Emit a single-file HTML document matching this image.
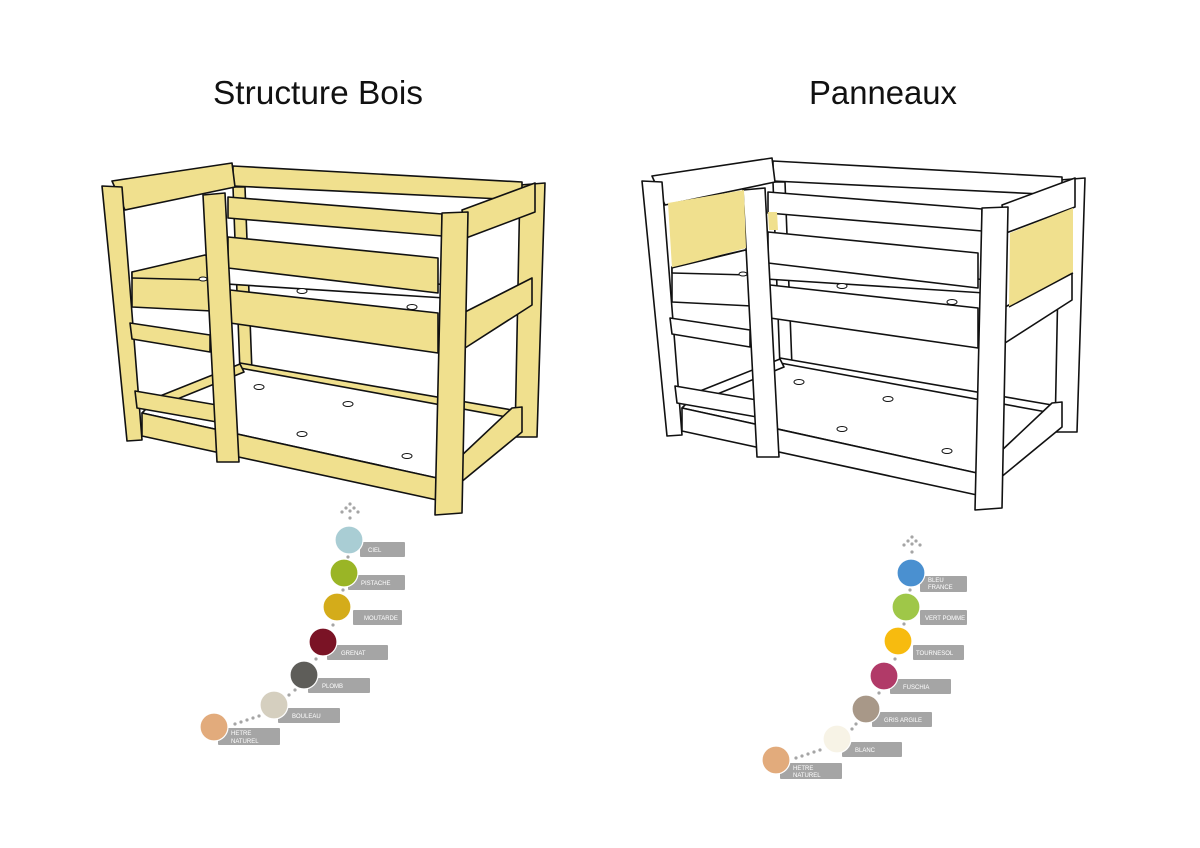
<!DOCTYPE html>
<html><head><meta charset="utf-8"><style>
html,body{margin:0;padding:0;background:#fff;width:1200px;height:848px;overflow:hidden}
svg{display:block}
.lbl{font-family:"Liberation Sans",sans-serif;font-size:6px;fill:#fff}
</style></head><body>
<svg width="1200" height="848" viewBox="0 0 1200 848" xmlns="http://www.w3.org/2000/svg">
<defs>
<g id="bed" stroke="#111" stroke-width="1.6" stroke-linejoin="round">
  <!-- back right post -->
  <polygon points="520,185 545,183 537,437 515,437" fill="currentColor"/>
  <!-- back left post visible between -->
  <polygon points="233,187 245,187 252,372 240,372" fill="currentColor"/>
  <!-- top back rail -->
  <polygon points="233,166 522,182 522,200 233,186" fill="currentColor"/>
  <!-- lower back rail -->
  <polygon points="240,363 512,410 512,420 240,372" fill="currentColor"/>
  <!-- upper mattress -->
  <polygon points="132,272 232,255 445,285 445,298 132,278" fill="#fff"/>
  <!-- lower mattress -->
  <polygon points="150,405 240,368 512,418 462,470 437,478 142,413" fill="#fff"/>
  <!-- lower left side rail -->
  <polygon points="155,398 240,364 244,372 160,406" fill="currentColor"/>
  <!-- left head top rail -->
  <polygon points="112,181 232,163 235,187 125,210" fill="currentColor"/>
  <!-- front left post -->
  <polygon points="102,186 122,187 142,440 127,441" fill="currentColor"/>
  <!-- upper left side rail -->
  <polygon points="132,272 205,255 210,258 212,311 132,307" fill="currentColor"/>
  <line x1="132" y1="278" x2="210" y2="280"/>
  <!-- rungs -->
  <polygon points="130,323 210,335 210,352 132,339" fill="currentColor"/>
  <polygon points="135,391 217,405 217,422 137,408" fill="currentColor"/>
  <!-- lower front rail -->
  <polygon points="142,413 437,478 437,500 142,436" fill="currentColor"/>
  <!-- guard rails -->
  <polygon points="228,197 442,214 442,236 228,218" fill="currentColor"/>
  <polygon points="228,237 438,258 438,293 228,268" fill="currentColor"/>
  <!-- upper front rail -->
  <polygon points="230,290 438,313 438,353 230,323" fill="currentColor"/>
  <!-- ladder post -->
  <polygon points="203,195 225,193 239,462 217,462" fill="currentColor"/>
  <!-- right side rails -->
  <polygon points="462,210 535,183 535,212 466,238" fill="currentColor"/>
  <polygon points="465,312 532,278 532,305 465,348" fill="currentColor"/>
  <polygon points="460,457 512,408 522,407 522,432 460,483" fill="currentColor"/>
  <!-- front right post -->
  <polygon points="442,213 468,212 462,513 435,515" fill="currentColor"/>
  <!-- holes -->
  <g fill="#fff" stroke-width="1">
    <ellipse cx="203" cy="279" rx="4" ry="2"/>
    <ellipse cx="302" cy="291" rx="5" ry="2.5"/>
    <ellipse cx="412" cy="307" rx="5" ry="2.5"/>
    <ellipse cx="259" cy="387" rx="5" ry="2.5"/>
    <ellipse cx="348" cy="404" rx="5" ry="2.5"/>
    <ellipse cx="302" cy="434" rx="5" ry="2.5"/>
    <ellipse cx="407" cy="456" rx="5" ry="2.5"/>
  </g>
</g>
</defs>

<text x="318" y="104" text-anchor="middle" font-family="Liberation Sans, sans-serif" font-size="33" fill="#111" textLength="210" lengthAdjust="spacingAndGlyphs">Structure Bois</text>
<text x="883" y="104" text-anchor="middle" font-family="Liberation Sans, sans-serif" font-size="33" fill="#111" textLength="148" lengthAdjust="spacingAndGlyphs">Panneaux</text>

<use href="#bed" style="color:#f0e08e"/>
<g transform="translate(540,-5)"><use href="#bed" style="color:#ffffff"/></g>
<!-- yellow panels on right bed -->
<g fill="#f0e08e" stroke="none">
  <polygon points="668,203 744,190 746,248 672,268"/>
  <polygon points="768,212 777,212 778,230 769,230"/>
  <polygon points="1010,233 1073,208 1073,272 1009,307"/>
</g>
<g stroke="#111" stroke-width="1.4" fill="none">
  <line x1="672" y1="268" x2="746" y2="250"/>
  <line x1="1009" y1="307" x2="1073" y2="273"/>
</g>

<!-- LEFT swatches -->
<g fill="#a5a5a5">
  <circle cx="350" cy="504" r="1.6"/><circle cx="346" cy="508" r="1.6"/><circle cx="354" cy="508" r="1.6"/><circle cx="342" cy="512" r="1.6"/><circle cx="350" cy="511" r="1.6"/><circle cx="358" cy="512" r="1.6"/><circle cx="350" cy="518" r="1.6"/>
  <circle cx="348" cy="557" r="1.6"/><circle cx="343" cy="590" r="1.6"/><circle cx="333" cy="625" r="1.6"/><circle cx="316" cy="659" r="1.6"/>
  <circle cx="295" cy="690" r="1.6"/><circle cx="289" cy="695" r="1.6"/>
  <circle cx="259" cy="716" r="1.6"/><circle cx="253" cy="718" r="1.6"/><circle cx="247" cy="720" r="1.6"/><circle cx="241" cy="722" r="1.6"/><circle cx="235" cy="724" r="1.6"/>
</g>
<g fill="#a5a5a5">
  <rect x="360" y="542" width="45" height="15" rx="1"/>
  <rect x="348" y="575" width="57" height="15" rx="1"/>
  <rect x="353" y="610" width="49" height="15" rx="1"/>
  <rect x="327" y="645" width="61" height="15" rx="1"/>
  <rect x="308" y="678" width="62" height="15" rx="1"/>
  <rect x="278" y="708" width="62" height="15" rx="1"/>
  <rect x="218" y="728" width="62" height="17" rx="1"/>
</g>
<g stroke="#fff" stroke-width="1.2">
  <circle cx="349" cy="540" r="14" fill="#a9cdd4"/>
  <circle cx="344" cy="573" r="14" fill="#9ab526"/>
  <circle cx="337" cy="607" r="14" fill="#d4ac1a"/>
  <circle cx="323" cy="642" r="14" fill="#7a1325"/>
  <circle cx="304" cy="675" r="14" fill="#5e5d59"/>
  <circle cx="274" cy="705" r="14" fill="#d5cfbf"/>
  <circle cx="214" cy="727" r="14" fill="#e2ab7c"/>
</g>
<g class="lbl">
  <text x="368" y="552">CIEL</text>
  <text x="361" y="585">PISTACHE</text>
  <text x="364" y="620">MOUTARDE</text>
  <text x="341" y="655">GRENAT</text>
  <text x="322" y="688">PLOMB</text>
  <text x="292" y="718">BOULEAU</text>
  <text x="231" y="735">HETRE</text>
  <text x="231" y="743">NATUREL</text>
</g>

<!-- RIGHT swatches -->
<g fill="#a5a5a5">
  <circle cx="912" cy="537" r="1.6"/><circle cx="908" cy="541" r="1.6"/><circle cx="916" cy="541" r="1.6"/><circle cx="904" cy="545" r="1.6"/><circle cx="912" cy="544" r="1.6"/><circle cx="920" cy="545" r="1.6"/><circle cx="912" cy="552" r="1.6"/>
  <circle cx="910" cy="590" r="1.6"/><circle cx="904" cy="624" r="1.6"/><circle cx="895" cy="659" r="1.6"/><circle cx="879" cy="693" r="1.6"/>
  <circle cx="856" cy="724" r="1.6"/><circle cx="852" cy="729" r="1.6"/>
  <circle cx="820" cy="750" r="1.6"/><circle cx="814" cy="752" r="1.6"/><circle cx="808" cy="754" r="1.6"/><circle cx="802" cy="756" r="1.6"/><circle cx="796" cy="758" r="1.6"/>
</g>
<g fill="#a5a5a5">
  <rect x="920" y="576" width="47" height="16" rx="1"/>
  <rect x="920" y="610" width="47" height="15" rx="1"/>
  <rect x="913" y="645" width="51" height="15" rx="1"/>
  <rect x="890" y="679" width="61" height="15" rx="1"/>
  <rect x="872" y="712" width="60" height="15" rx="1"/>
  <rect x="842" y="742" width="60" height="15" rx="1"/>
  <rect x="780" y="763" width="62" height="16" rx="1"/>
</g>
<g stroke="#fff" stroke-width="1.2">
  <circle cx="911" cy="573" r="14" fill="#4a90d0"/>
  <circle cx="906" cy="607" r="14" fill="#9fc748"/>
  <circle cx="898" cy="641" r="14" fill="#f7bb0f"/>
  <circle cx="884" cy="676" r="14" fill="#b13a68"/>
  <circle cx="866" cy="709" r="14" fill="#a89888"/>
  <circle cx="837" cy="739" r="14" fill="#f7f3e6"/>
  <circle cx="776" cy="760" r="14" fill="#e2ab7c"/>
</g>
<g class="lbl">
  <text x="928" y="582">BLEU</text>
  <text x="928" y="589">FRANCE</text>
  <text x="925" y="620">VERT POMME</text>
  <text x="916" y="655">TOURNESOL</text>
  <text x="903" y="689">FUSCHIA</text>
  <text x="884" y="722">GRIS ARGILE</text>
  <text x="855" y="752">BLANC</text>
  <text x="793" y="770">HETRE</text>
  <text x="793" y="777">NATUREL</text>
</g>
</svg>
</body></html>
